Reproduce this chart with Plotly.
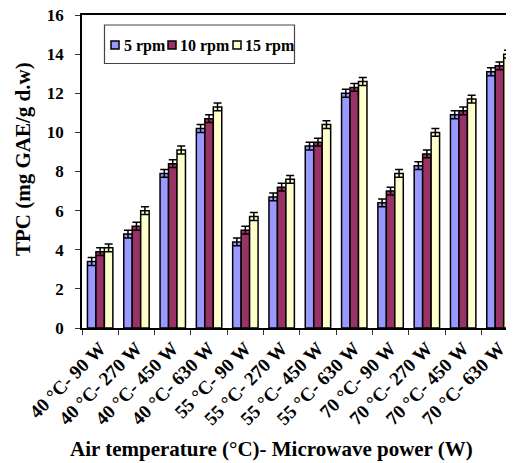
import plotly.graph_objects as go

categories = ["40 °C- 90 W", "40 °C- 270 W", "40 °C- 450 W", "40 °C- 630 W",
              "55 °C- 90 W", "55 °C- 270 W", "55 °C- 450 W", "55 °C- 630 W",
              "70 °C- 90 W", "70 °C- 270 W", "70 °C- 450 W", "70 °C- 630 W"]
rpm5 = [3.4, 4.8, 7.9, 10.2, 4.4, 6.7, 9.3, 12.0, 6.4, 8.3, 10.9, 13.1]
rpm10 = [3.9, 5.2, 8.4, 10.7, 5.0, 7.2, 9.5, 12.3, 7.0, 8.9, 11.1, 13.4]
rpm15 = [4.1, 6.0, 9.1, 11.3, 5.7, 7.6, 10.4, 12.6, 7.9, 10.0, 11.7, 14.0]
err5 = [0.2, 0.2, 0.2, 0.2, 0.2, 0.2, 0.2, 0.2, 0.2, 0.2, 0.2, 0.2]
err10 = [0.2, 0.2, 0.2, 0.2, 0.2, 0.2, 0.2, 0.2, 0.2, 0.2, 0.2, 0.2]
err15 = [0.2, 0.2, 0.2, 0.2, 0.2, 0.2, 0.2, 0.2, 0.2, 0.2, 0.2, 0.2]
series_names = ["5 rpm", "10 rpm", "15 rpm"]
colors = ["#9999FF", "#993366", "#FFFFCC"]

FONT = "Liberation Serif"

# the page body has an 8px margin, so the figure is 8px smaller and offset
OFF = 8
W, H = 514 - OFF, 463 - OFF

fig = go.Figure()
for name, vals, errs, col in zip(series_names, [rpm5, rpm10, rpm15], [err5, err10, err15], colors):
    fig.add_trace(go.Bar(
        x=categories, y=vals, name=name,
        marker=dict(color=col, line=dict(color="black", width=1.5)),
        error_y=dict(type="data", array=errs, visible=True, color="black", thickness=1.5, width=4),
        showlegend=False, cliponaxis=False,
    ))

# plot area in window pixels: x 82..514, y 15..328
L, R, T, B = 82, 514, 15, 328
def px(x):
    return (x - L) / (R - L)
def py(y):
    return (B - y) / (B - T)

shapes = [dict(type="rect", xref="paper", yref="paper",
               x0=px(104.5), x1=px(294.5), y0=py(63.5), y1=py(25),
               line=dict(color="#444444", width=1.2), fillcolor="white", layer="above")]
annotations = []
sw_x = [111, 168, 233]
tx_x = [121.5, 177.5, 242.5]
for sx, tx, col, name in zip(sw_x, tx_x, colors, series_names):
    shapes.append(dict(type="rect", xref="paper", yref="paper",
                       x0=px(sx), x1=px(sx + 8), y0=py(49), y1=py(41),
                       line=dict(color="black", width=1.5), fillcolor=col, layer="above"))
    annotations.append(dict(text=name, xref="paper", yref="paper", x=px(tx), y=py(45.5),
                            xanchor="left", yanchor="middle", showarrow=False,
                            font=dict(family=FONT, size=16, color="black", weight="bold")))

annotations.append(dict(text="Air temperature (°C)- Microwave power (W)", xref="paper", yref="paper",
                        x=px(271), y=py(449), xanchor="center", yanchor="middle", showarrow=False,
                        font=dict(family=FONT, size=21, color="black", weight="bold")))
annotations.append(dict(text="TPC (mg GAE/g d.w)", xref="paper", yref="paper",
                        x=px(23), y=py(159), xanchor="center", yanchor="middle", showarrow=False,
                        textangle=-90,
                        font=dict(family=FONT, size=21, color="black", weight="bold")))

fig.update_layout(
    width=W, height=H,
    margin=dict(l=L - OFF, r=514 - R, t=T - OFF, b=463 - B, pad=0, autoexpand=False),
    paper_bgcolor="white", plot_bgcolor="white",
    barmode="group", bargap=0.3, bargroupgap=0,
    shapes=shapes, annotations=annotations,
    font=dict(family=FONT, color="black"),
)
fig.update_xaxes(
    type="category", range=[-0.5, 11.4], automargin=False,
    showline=True, linecolor="black", linewidth=1.5, mirror=True,
    ticks="outside", tickson="boundaries", ticklen=5, tickcolor="#333333", tickwidth=1.2,
    tickangle=-45, showgrid=False, ticklabeloverflow="allow",
    tickfont=dict(family=FONT, size=19, color="black", weight="bold"),
)
fig.update_yaxes(
    range=[0, 16], dtick=2, tick0=0, automargin=False,
    showline=True, linecolor="black", linewidth=1.5, mirror=False,
    ticks="outside", ticklen=5, tickcolor="#333333", tickwidth=1.2,
    showgrid=False, zeroline=False, ticklabelstandoff=8, ticklabeloverflow="allow",
    tickfont=dict(family=FONT, size=17, color="black", weight="bold"),
)

fig.write_html("out.html")
